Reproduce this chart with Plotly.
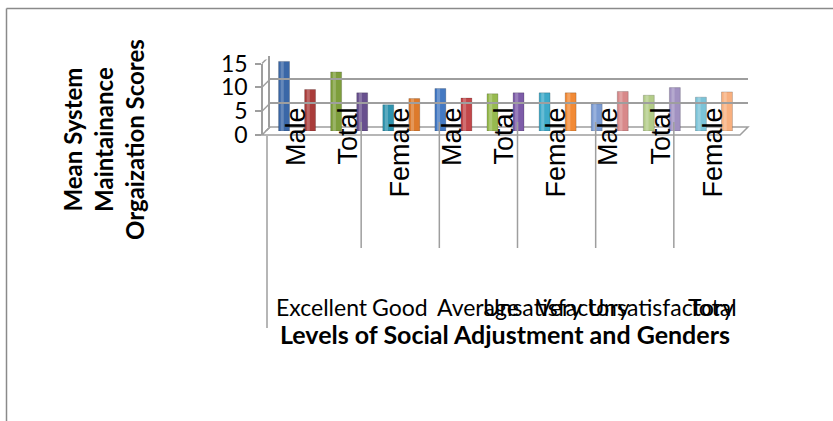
import plotly.graph_objects as go

# ---- data ----
levels = ["Excellent", "Good", "Average", "Unsatisfactory", "Very Unsatisfactory", "Total"]
genders = ["Male", "Female", "Total"]
male = [14.6, 8.0, 8.9, 8.0, 5.7, 9.1]
female = [8.7, 5.5, 6.9, 8.0, 8.3, 7.1]
total = [12.4, 6.8, 7.8, 8.0, 7.5, 8.2]
y_ticks = [0, 5, 10, 15]

bar_colors = [
    "#3A67A7", "#A93C3A", "#7E9E3C", "#68508E", "#2F93AE", "#DD7A2B",
    "#4479C2", "#C3474A", "#97BA4F", "#7D5CA8", "#3DA9C8", "#F28A35",
    "#7B9BD2", "#D8898A", "#B3CC88", "#A191C1", "#7BC3D8", "#F8B07F",
]

values, labels = [], []
for i, lvl in enumerate(levels):
    for g, series in zip(genders, (male, female, total)):
        values.append(series[i])
        labels.append(g)
positions = list(range(len(values)))

# ---- page geometry (pixels) ----
W, H = 833, 421
def px(x):
    return x / W
def py(y):
    return 1 - y / H

GRID = "#9E9E9E"
CAL = "Lato"

fig = go.Figure()
fig.add_trace(go.Bar(
    x=positions, y=values, width=0.42,
    marker=dict(color=bar_colors, line=dict(color="rgba(0,0,0,0.3)", width=0.6)),
    showlegend=False, hoverinfo="y",
))
# soft highlight strip that gives each column a rounded look
fig.add_trace(go.Bar(
    x=positions, y=values, width=0.12, offset=-0.13,
    marker=dict(color="rgba(255,255,255,0.22)", line=dict(width=0)),
    showlegend=False, hoverinfo="skip",
))
# empty traces that carry the wall grid and the front axis
fig.add_trace(go.Scatter(x=[None], y=[None], xaxis="x2", yaxis="y2", showlegend=False, hoverinfo="skip"))
fig.add_trace(go.Scatter(x=[None], y=[None], xaxis="x3", yaxis="y3", showlegend=False, hoverinfo="skip"))

xr = [-0.5, len(values) - 0.5]
yr = [0, 15]
hidden = dict(showgrid=False, zeroline=False, showline=False, showticklabels=False, ticks="", automargin=False)

shapes = []
# chart frame
shapes.append(dict(type="line", xref="paper", yref="paper", x0=px(6.5), x1=1.0, y0=py(8.5), y1=py(8.5),
                   line=dict(color="#8A8A8A", width=1.5)))
shapes.append(dict(type="line", xref="paper", yref="paper", x0=px(6.5), x1=px(6.5), y0=py(8.5), y1=0,
                   line=dict(color="#8A8A8A", width=1.5)))
# floor
shapes.append(dict(type="path", xref="paper", yref="paper",
                   path=f"M {px(262)},{py(135)} L {px(740)},{py(135)} L {px(748)},{py(127)} L {px(270)},{py(127)} Z",
                   line=dict(color=GRID, width=1.5), fillcolor="white", layer="below"))
# side wall diagonals at each tick
for v in y_ticks:
    shapes.append(dict(type="line", xref="paper", yref="y", ysizemode="pixel", yanchor=v,
                       x0=px(262), x1=px(270), y0=-4, y1=4, line=dict(color=GRID, width=1.5)))
# group separators under the floor
for k in range(1, len(levels) + 1):
    b = 3 * k - 0.5
    shapes.append(dict(type="line", xref="x", xsizemode="pixel", xanchor=b, x0=12, x1=12,
                       yref="paper", y0=py(248), y1=py(122), line=dict(color=GRID, width=1.5)))
shapes.append(dict(type="line", xref="paper", yref="paper", x0=px(267), x1=px(267), y0=py(136), y1=py(328),
                   line=dict(color=GRID, width=1.5)))

annotations = []
for i, lvl in enumerate(levels):
    annotations.append(dict(x=3 * i + 1, xref="x", xshift=12, y=py(307), yref="paper",
                            text=lvl, showarrow=False, yanchor="middle",
                            font=dict(family=CAL, size=23, color="black")))
annotations.append(dict(x=px(505), y=py(334), xref="paper", yref="paper", showarrow=False,
                        text="<b>Levels of Social Adjustment and Genders</b>", yanchor="middle",
                        font=dict(family=CAL, size=25, color="black")))
annotations.append(dict(x=px(103), y=py(140), xref="paper", yref="paper", showarrow=False, textangle=-90,
                        text="<b>Mean System<br>Maintainance<br>Orgaization Scores</b>",
                        xanchor="center", yanchor="middle",
                        font=dict(family=CAL, size=24, color="black")))

fig.update_layout(
    template="none",
    width=W, height=H, autosize=False,
    margin=dict(l=0, r=0, t=0, b=0, pad=0),
    paper_bgcolor="white", plot_bgcolor="rgba(0,0,0,0)",
    barmode="overlay",
    xaxis=dict(domain=[px(271), px(740)], range=xr, **hidden),
    yaxis=dict(domain=[py(131), py(59.5)], range=yr, **hidden),
    # back wall with gridlines
    xaxis2=dict(domain=[px(270), px(748)], range=xr, anchor="y2", **hidden),
    yaxis2=dict(domain=[py(127), py(55.5)], range=[-0.01, 15.01], anchor="x2", tickvals=y_ticks,
                showgrid=True, gridcolor=GRID, gridwidth=1.5, zeroline=False, automargin=False,
                showline=True, linecolor=GRID, linewidth=1.5, showticklabels=False, ticks=""),
    # front axis: gender labels and value ticks
    xaxis3=dict(domain=[px(283), px(752)], range=xr, anchor="free", position=py(101),
                tickvals=positions[::2], ticktext=labels[::2], tickangle=-90, ticks="",
                showgrid=False, zeroline=False, showline=False, automargin=False,
                tickfont=dict(family="Liberation Sans, Arial, sans-serif", size=27, color="black")),
    yaxis3=dict(domain=[py(135), py(63.5)], range=yr, anchor="free", position=px(262),
                tickvals=y_ticks, ticks="outside", ticklen=6, tickcolor=GRID, tickwidth=1.5,
                showline=True, linecolor=GRID, linewidth=1.5, showgrid=False, zeroline=False,
                ticklabelstandoff=3, automargin=False,
                tickfont=dict(family=CAL, size=23, color="black")),
    shapes=shapes,
    annotations=annotations,
)

fig.write_html("out.html")
